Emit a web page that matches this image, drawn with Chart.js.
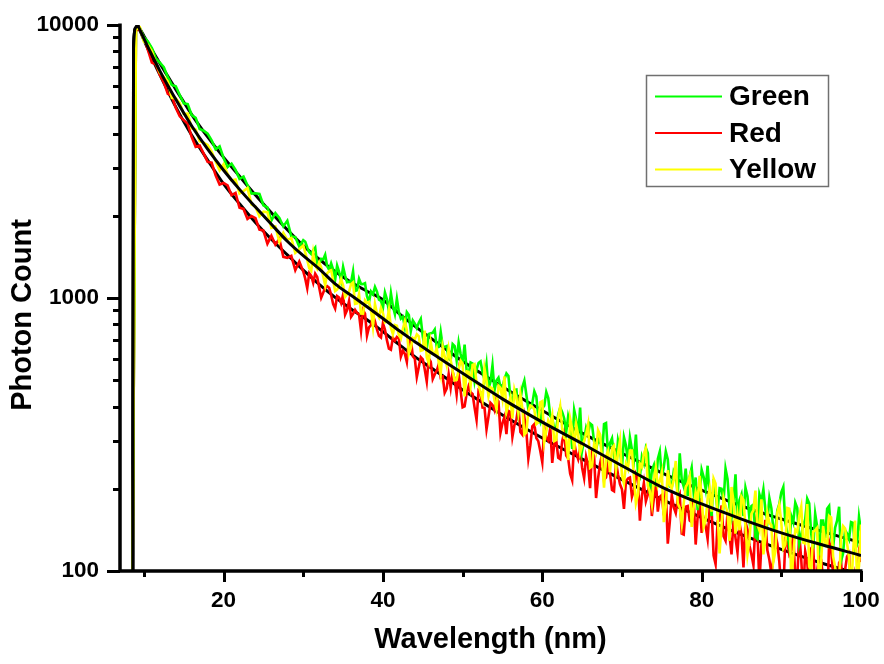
<!DOCTYPE html>
<html>
<head>
<meta charset="utf-8">
<title>Photon Count</title>
<script src="https://cdn.jsdelivr.net/npm/chart.js@4.4.0/dist/chart.umd.min.js"></script>
<style>
  html, body { margin: 0; padding: 0; background: #fff; }
  canvas { display: block; }
</style>
</head>
<body>
<canvas id="spectrum" width="884" height="664"></canvas>
<script>
//------------------------------------------------------
// MEASURED SPECTRA
// 0.5 nm steps from 8.5 to 30 nm, 0.25 nm steps up to 100 nm
//------------------------------------------------------
const greenCounts = [
  40, 9730, 9720, 9024, 8702, 8226, 7548, 7277, 7002, 6441,
  6036, 5965, 5538, 5167, 5131, 4674, 4569, 4157, 4100, 3999,
  3781, 3507, 3592, 3257, 3017, 3106, 2945, 2732, 2784, 2588,
  2411, 2420, 2405, 2187, 2148, 1922, 2048, 1965, 1828, 1918,
  1683, 1672, 1543, 1628,
  1607, 1532, 1475, 1448, 1496, 1529, 1325, 1333, 1392, 1384, 1440, 1308, 1267, 1339, 1272, 1167, 1314, 1247, 1158, 1300,
  1208, 1143, 1148, 1143, 1251, 1061, 1067, 1176, 1126, 1124, 1133, 1016, 965, 1056, 1032, 1097, 1055, 986, 977, 919,
  1048, 990, 895, 1042, 933, 873, 994, 887, 840, 853, 783, 887, 867, 756, 827, 806, 776, 811, 838, 723,
  663, 654, 738, 743, 746, 766, 659, 662, 751, 666, 662, 667, 599, 592, 678, 666, 590, 687, 624, 575,
  675, 543, 523, 580, 575, 497, 547, 578, 586, 536, 501, 572, 462, 494, 567, 459, 499, 511, 473, 473,
  504, 529, 518, 430, 417, 460, 462, 381, 423, 472, 498, 442, 391, 396, 412, 455, 436, 366, 351, 395,
  403, 452, 430, 369, 363, 331, 333, 375, 397, 382, 362, 322, 369, 345, 280, 389, 359, 314, 397, 276,
  303, 335, 318, 347, 342, 298, 279, 300, 310, 267, 345, 348, 270, 294, 306, 264, 240, 301, 280, 238,
  309, 288, 252, 308, 279, 256, 316, 230, 222, 262, 248, 282, 270, 192, 234, 244, 204, 257, 274, 221,
  241, 274, 256, 204, 203, 232, 225, 191, 270, 216, 204, 237, 188, 222, 239, 193, 220, 167, 189, 235,
  221, 200, 243, 187, 159, 217, 192, 166, 201, 200, 179, 237, 217, 171, 157, 180, 226, 150, 182, 191,
  159, 202, 188, 155, 173, 175, 133, 131, 191, 180, 199, 167, 152, 185, 170, 142, 141, 167, 176, 194,
  203, 150, 139, 123, 159, 151, 178, 170, 126, 136, 147, 155, 184, 177, 137, 121, 162, 145, 114, 153,
  153, 132, 169, 173, 134, 122, 144, 153, 172, 109, 116, 141, 137, 131, 151, 150, 120, 124, 158, 140
];

const redCounts = [
  40, 9565, 9607, 9008, 8112, 7290, 7167, 6557, 6165, 5596,
  5504, 4972, 4629, 4484, 4345, 3886, 3580, 3617, 3378, 3151,
  3130, 2814, 2604, 2638, 2585, 2380, 2425, 2140, 2120, 1948,
  1996, 1960, 1780, 1767, 1581, 1689, 1569, 1645, 1415, 1403,
  1427, 1264, 1361, 1251,
  1177, 1086, 1233, 1205, 1136, 1227, 1194, 1093, 1003, 1046, 1089, 1105, 1090, 1025, 950, 915, 1016, 1003, 958, 1029,
  869, 903, 976, 853, 875, 905, 882, 872, 759, 903, 876, 728, 781, 796, 863, 821, 767, 727, 717, 809,
  766, 701, 653, 647, 716, 698, 720, 710, 610, 641, 625, 583, 701, 707, 612, 600, 513, 559, 607, 596,
  547, 494, 602, 585, 505, 525, 541, 572, 511, 516, 450, 466, 526, 469, 537, 504, 443, 531, 458, 398,
  401, 446, 475, 452, 445, 397, 358, 458, 451, 397, 396, 330, 368, 413, 406, 388, 429, 418, 321, 348,
  367, 317, 386, 382, 310, 342, 358, 401, 323, 316, 366, 325, 258, 289, 339, 345, 307, 299, 275, 250,
  336, 307, 300, 334, 249, 292, 301, 260, 257, 299, 322, 265, 258, 227, 215, 297, 270, 257, 281, 239,
  219, 262, 244, 201, 273, 264, 185, 218, 247, 268, 216, 220, 246, 228, 198, 196, 251, 226, 208, 199,
  169, 213, 218, 220, 187, 198, 226, 217, 153, 188, 210, 180, 191, 217, 159, 184, 215, 165, 187, 190,
  160, 198, 126, 151, 190, 171, 163, 184, 191, 137, 136, 172, 173, 153, 151, 185, 125, 158, 185, 138,
  156, 146, 131, 169, 168, 114, 106, 152, 153, 174, 134, 129, 163, 135, 115, 153, 132, 117, 150, 136,
  103, 151, 142, 124, 115, 105, 151, 138, 90, 125, 130, 154, 119, 110, 98, 111, 137, 126, 108, 86,
  84, 130, 127, 115, 119, 136, 95, 94, 137, 110, 82, 118, 108, 85, 121, 124, 85, 100, 114, 110,
  93, 91, 73, 128, 120, 97, 96, 74, 107, 110, 75, 101, 113, 116, 84, 80, 96, 87, 116, 108
];

const yellowCounts = [
  40, 9682, 9790, 8681, 8463, 8010, 7263, 6677, 6459, 6202,
  5411, 5378, 5171, 4726, 4732, 4185, 4142, 3755, 3709, 3634,
  3437, 3171, 2936, 3091, 2846, 2695, 2714, 2415, 2466, 2529,
  2204, 2159, 1991, 2070, 2061, 1806, 1827, 1606, 1733, 1632,
  1657, 1464, 1509, 1559,
  1467, 1379, 1286, 1257, 1463, 1317, 1280, 1348, 1294, 1201, 1112, 1231, 1254, 1265, 1156, 1061, 1074, 1111, 1172, 1114,
  1009, 1030, 1055, 1124, 1141, 952, 956, 1033, 878, 877, 981, 959, 967, 907, 787, 951, 878, 849, 920, 881,
  814, 821, 906, 779, 736, 796, 791, 732, 710, 770, 822, 762, 625, 657, 714, 705, 736, 723, 641, 645,
  759, 606, 580, 690, 625, 625, 654, 583, 527, 661, 610, 567, 653, 594, 540, 499, 501, 546, 589, 575,
  436, 539, 537, 476, 569, 573, 487, 482, 450, 424, 551, 498, 437, 471, 466, 422, 392, 477, 469, 427,
  516, 382, 406, 432, 362, 460, 430, 381, 444, 395, 316, 322, 384, 404, 400, 390, 345, 350, 415, 419,
  297, 325, 356, 342, 372, 299, 302, 365, 400, 331, 307, 304, 255, 361, 331, 277, 344, 315, 271, 288,
  299, 317, 344, 239, 242, 291, 274, 328, 316, 253, 202, 263, 275, 230, 282, 288, 235, 269, 300, 223,
  209, 247, 237, 276, 276, 221, 177, 190, 247, 240, 269, 281, 205, 196, 176, 216, 239, 205, 214, 230,
  151, 172, 234, 207, 201, 216, 253, 177, 170, 149, 177, 203, 210, 222, 145, 171, 194, 181, 223, 187,
  145, 153, 184, 200, 165, 218, 209, 162, 116, 148, 185, 173, 164, 129, 203, 180, 137, 161, 141, 187,
  182, 145, 115, 130, 162, 167, 197, 148, 141, 183, 115, 131, 163, 150, 147, 108, 118, 164, 175, 150,
  121, 125, 170, 169, 93, 113, 142, 139, 159, 172, 127, 126, 176, 104, 100, 139, 141, 144, 84, 109,
  146, 127, 124, 159, 157, 113, 104, 91, 90, 132, 146, 143, 126, 112, 83, 116, 153, 96, 104, 148
];

// detector grid: coarse below 30 nm, fine above
const wavelengths = greenCounts.map((_, i) => i < 44 ? 8.5 + i * 0.5 : 30 + (i - 43) * 0.25);

//------------------------------------------------------
// FITTED CURVES
//------------------------------------------------------
const fitWavelengths = [
  8.6, 8.7, 9.0, 9.2, 9.5, 10, 11, 12, 13, 14, 15, 16, 18, 20, 22, 24, 26, 28, 30,
  32, 34, 36, 38, 40, 42, 44, 46, 48, 50, 55, 60, 65, 70, 75, 80, 85, 90, 95, 100
];
const greenFit = [
  60, 8200, 9800, 9954, 9661, 9120, 8128, 7244, 6486, 5808, 5224, 4699, 3890, 3273, 2793, 2382, 2051, 1778, 1556,
  1387, 1250, 1143, 1059, 986, 879, 789, 713, 646, 586, 473, 387, 320, 270, 229, 198, 173, 155, 140, 127
];
const redFit = [
  60, 8200, 9800, 9954, 9550, 8810, 7586, 6577, 5728, 5012, 4426, 3945, 3199, 2618, 2213, 1892, 1641, 1439, 1265,
  1122, 1005, 912, 832, 753, 676, 610, 556, 507, 461, 373, 307, 257, 216, 183, 157, 136, 120, 107, 97
];
const yellowFit = [
  60, 8200, 9800, 9954, 9594, 8913, 7762, 6792, 5998, 5346, 4764, 4266, 3508, 2938, 2500, 2153, 1862, 1614, 1429,
  1279, 1127, 1023, 929, 841, 760, 692, 631, 578, 530, 427, 351, 293, 243, 203, 176, 155, 138, 125, 114
];

//------------------------------------------------------
// AXES
//------------------------------------------------------
const xTicks = [10, 20, 30, 40, 50, 60, 70, 80, 90, 100];
const xLabelled = [20, 40, 60, 80, 100];
const yTicks = [100, 200, 300, 400, 500, 600, 700, 800, 900,
                1000, 2000, 3000, 4000, 5000, 6000, 7000, 8000, 9000, 10000];
const yLabelled = [100, 1000, 10000];
const legendOrder = ['Green', 'Red', 'Yellow'];

const FONT = "'Liberation Sans', Arial, sans-serif";

const toPoints = (xs, ys) => xs.map((x, i) => ({ x: x, y: ys[i] }));

const fitLine = (label, values) => ({
  label: label,
  data: toPoints(fitWavelengths, values),
  borderColor: '#000000',
  borderWidth: 3,
  cubicInterpolationMode: 'monotone'
});
const rawLine = (label, values, color) => ({
  label: label,
  data: toPoints(wavelengths, values),
  borderColor: color,
  borderWidth: 2.6
});

// axis lines, tick marks and titles drawn Origin style
const axisFrame = {
  id: 'axisFrame',
  afterDraw(chart) {
    const { ctx, chartArea: a, scales: { x, y } } = chart;
    ctx.save();
    ctx.strokeStyle = '#000';
    ctx.lineWidth = 3;
    yTicks.forEach(v => {
      const py = Math.round(y.getPixelForValue(v)) + 0.5;
      const len = yLabelled.includes(v) ? 13 : 7;
      ctx.beginPath();
      ctx.moveTo(a.left - len, py);
      ctx.lineTo(a.left, py);
      ctx.stroke();
    });
    xTicks.forEach(v => {
      const px = Math.round(x.getPixelForValue(v)) + 0.5;
      const len = xLabelled.includes(v) ? 11 : 6;
      ctx.beginPath();
      ctx.moveTo(px, a.bottom);
      ctx.lineTo(px, a.bottom + len);
      ctx.stroke();
    });
    ctx.lineWidth = 3.5;
    ctx.beginPath();
    ctx.moveTo(a.left, a.top - 1.5);
    ctx.lineTo(a.left, a.bottom);
    ctx.lineTo(a.right + 1.5, a.bottom);
    ctx.stroke();

    ctx.fillStyle = '#000';
    ctx.font = 'bold 29px ' + FONT;
    ctx.textAlign = 'center';
    ctx.textBaseline = 'middle';
    ctx.fillText('Wavelength (nm)', (a.left + a.right) / 2, 640);
    ctx.translate(23, 315);
    ctx.rotate(-Math.PI / 2);
    ctx.fillText('Photon Count', 0, 0);
    ctx.restore();
  }
};

// boxed legend in the upper right corner
const legendBox = {
  id: 'legendBox',
  afterDraw(chart) {
    const ctx = chart.ctx;
    ctx.save();
    ctx.strokeStyle = '#707070';
    ctx.lineWidth = 1.5;
    ctx.strokeRect(646.5, 75.5, 182, 111);
    ctx.font = 'bold 28px ' + FONT;
    ctx.textAlign = 'left';
    ctx.textBaseline = 'middle';
    ctx.fillStyle = '#000';
    legendOrder.forEach((name, i) => {
      const ds = chart.data.datasets.find(d => d.label === name);
      const ly = 96.5 + i * 36.5;
      ctx.strokeStyle = ds.borderColor;
      ctx.lineWidth = 2;
      ctx.beginPath();
      ctx.moveTo(655, ly);
      ctx.lineTo(722, ly);
      ctx.stroke();
      ctx.fillText(name, 729, ly + 1);
    });
    ctx.restore();
  }
};

const config = {
  type: 'line',
  data: {
    // first entry is painted last (on top)
    datasets: [
      fitLine('Yellow fit', yellowFit),
      rawLine('Yellow', yellowCounts, '#ffff00'),
      rawLine('Green', greenCounts, '#00ff00'),
      rawLine('Red', redCounts, '#ff0000'),
      fitLine('Green fit', greenFit),
      fitLine('Red fit', redFit)
    ]
  },
  options: {
    responsive: false,
    animation: false,
    devicePixelRatio: 1,
    layout: { padding: { left: 0, top: 25, right: 23, bottom: 0 } },
    elements: {
      point: { radius: 0 },
      line: { tension: 0, borderJoinStyle: 'miter' }
    },
    plugins: {
      legend: { display: false },
      tooltip: { enabled: false }
    },
    scales: {
      x: {
        type: 'linear',
        min: 7,
        max: 100,
        grid: { display: false, drawTicks: false },
        border: { display: false },
        afterBuildTicks: s => { s.ticks = xTicks.map(v => ({ value: v })); },
        afterFit: s => {
          s.height = 93;
          s.paddingLeft = 0;
          s.paddingRight = 0;
        },
        ticks: {
          autoSkip: false,
          maxRotation: 0,
          padding: 16,
          color: '#000',
          font: { family: FONT, size: 22.5, weight: 'bold' },
          callback: v => xLabelled.includes(v) ? String(v) : ''
        }
      },
      y: {
        type: 'logarithmic',
        min: 100,
        max: 10000,
        grid: { display: false, drawTicks: false },
        border: { display: false },
        afterBuildTicks: s => { s.ticks = yTicks.map(v => ({ value: v })); },
        afterFit: s => {
          s.width = 120;
          s.paddingTop = 0;
          s.paddingBottom = 0;
        },
        ticks: {
          autoSkip: false,
          padding: 21,
          color: '#000',
          font: { family: FONT, size: 22.5, weight: 'bold' },
          callback: v => yLabelled.includes(v) ? String(v) : ''
        }
      }
    }
  },
  plugins: [axisFrame, legendBox]
};

const spectrumChart = new Chart(document.getElementById('spectrum').getContext('2d'), config);
</script>
</body>
</html>
